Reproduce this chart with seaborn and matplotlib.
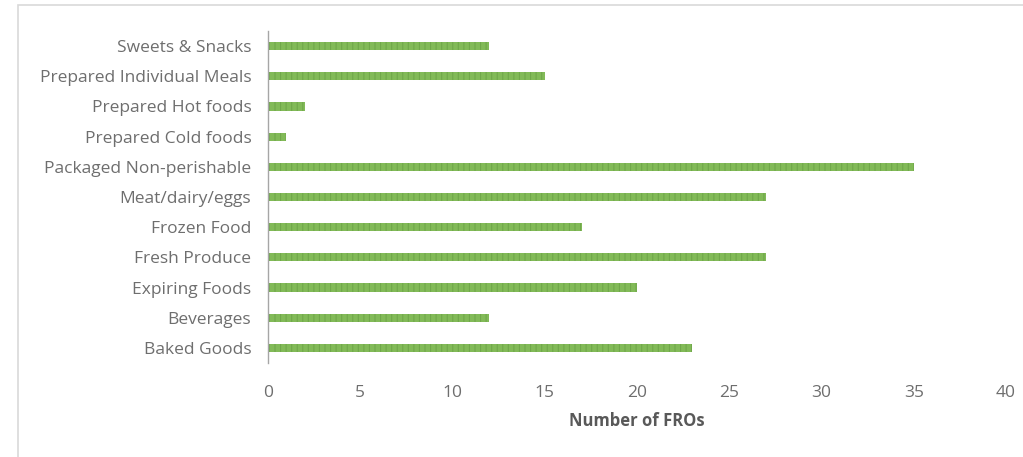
import matplotlib
matplotlib.use("Agg")
import matplotlib.pyplot as plt
import seaborn as sns
import pandas as pd
from matplotlib.patches import Rectangle

categories = [
    "Sweets & Snacks",
    "Prepared Individual Meals",
    "Prepared Hot foods",
    "Prepared Cold foods",
    "Packaged Non-perishable",
    "Meat/dairy/eggs",
    "Frozen Food",
    "Fresh Produce",
    "Expiring Foods",
    "Beverages",
    "Baked Goods",
]
counts = [12, 15, 2, 1, 35, 27, 17, 27, 20, 12, 23]
x_ticks = [0, 5, 10, 15, 20, 25, 30, 35, 40]

df = pd.DataFrame({"category": categories, "count": counts})

sns.set_theme(style="white")
plt.rcParams["font.family"] = ["Open Sans", "DejaVu Sans"]
plt.rcParams["hatch.linewidth"] = 0.8

fig = plt.figure(figsize=(10.23, 4.57), dpi=100)
fig.patch.set_facecolor("white")
# light frame around the chart area
fig.patches.append(Rectangle((18 / 1023, -0.05), 1.1, 1 - 5 / 457 + 0.05,
                             transform=fig.transFigure, fill=False,
                             edgecolor="#d9d9d9", linewidth=1.2))

ax = fig.add_axes([268 / 1023, 1 - 363 / 457, (1006 - 268) / 1023, (363 - 31) / 457])
sns.barplot(data=df, x="count", y="category", orient="h", color="#82ba58",
            width=0.27, ax=ax, saturation=1)
for bar in ax.patches:
    bar.set_hatch("|||")
    bar.set_edgecolor("#70a84a")
    bar.set_linewidth(0)

ax.set_xlim(0, 40)
ax.set_ylim(10.5, -0.5)
ax.set_xticks(x_ticks)
ax.set_xticklabels([str(t) for t in x_ticks])
ax.tick_params(axis="both", length=0, labelsize=12.5, labelcolor="#6e6e6e")
ax.tick_params(axis="x", pad=16)
ax.tick_params(axis="y", pad=12)
ax.set_ylabel("")
ax.set_xlabel("Number of FROs", fontsize=12, fontweight="bold", color="#595959", labelpad=8)
for s in ["top", "right", "bottom"]:
    ax.spines[s].set_visible(False)
ax.spines["left"].set_color("#a6a6a6")
ax.spines["left"].set_linewidth(1)
ax.set_facecolor("white")

fig.savefig("out.png", dpi=100, facecolor="white")
